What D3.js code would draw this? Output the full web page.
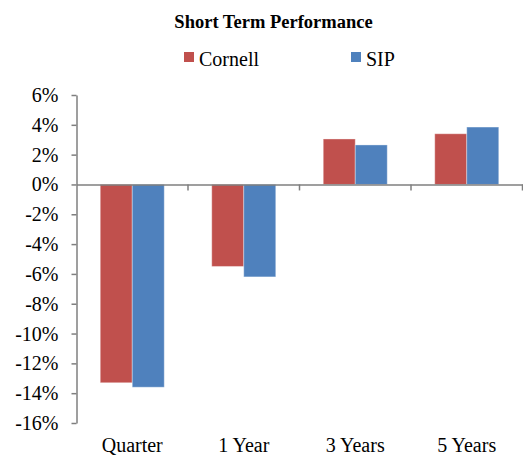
<!DOCTYPE html>
<html>
<head>
<meta charset="utf-8">
<script src="https://cdn.jsdelivr.net/npm/d3@7"></script>
</head>
<body style="margin:0">
<svg id="chart" width="523" height="457"></svg>
<script>
const categories = ["Quarter", "1 Year", "3 Years", "5 Years"];
const seriesNames = ["Cornell", "SIP"];
const cornell = [-13.3, -5.5, 3.05, 3.4];
const sip = [-13.6, -6.2, 2.65, 3.85];
const yTicks = [6, 4, 2, 0, -2, -4, -6, -8, -10, -12, -14, -16];
const colors = ["#C0504D", "#4F81BD"];
const fuente = "Liberation Serif";

let svg = d3.select("#chart");

let x = d3.scaleBand()
    .domain(categories)
    .range([76.5, 522.5]);

let y = d3.scaleLinear()
    .domain([-16, 6])
    .range([423, 95]);

let x1 = d3.scaleBand()
    .domain(seriesNames)
    .range([0, 64]);

let datos = categories.map((c, i) => ({cat: c, valores: [cornell[i], sip[i]]}));

// barras
let grupos = svg.selectAll(".grupo")
    .data(datos)
    .enter()
    .append("g")
    .attr("transform", d => `translate(${x(d.cat) + (x.bandwidth() - 64) / 2},0)`);

grupos.selectAll("rect")
    .data(d => d.valores.map((v, j) => ({serie: seriesNames[j], v: v, j: j})))
    .enter()
    .append("rect")
    .attr("x", d => x1(d.serie))
    .attr("width", x1.bandwidth())
    .attr("y", d => y(Math.max(0, d.v)))
    .attr("height", d => Math.abs(y(d.v) - y(0)))
    .attr("fill", d => colors[d.j])
    .attr("stroke", "rgba(255,255,255,0.35)")
    .attr("stroke-width", 1);

// eje y (lineas)
let ejeY = svg.append("g")
    .attr("transform", "translate(76.5,0)")
    .call(d3.axisLeft(y).tickValues(yTicks).tickSize(5).tickSizeOuter(0).tickFormat(""));
ejeY.select(".domain").attr("stroke", "#7f7f7f").attr("stroke-width", 1.5);
ejeY.selectAll(".tick line").attr("stroke", "#7f7f7f").attr("stroke-width", 1.5);
ejeY.selectAll(".tick text").remove();

// etiquetas del eje y
svg.selectAll(".etiquetaY")
    .data(yTicks)
    .enter()
    .append("text")
    .text(d => d + "%")
    .attr("x", 58.5)
    .attr("y", d => y(d))
    .attr("dy", "0.35em")
    .attr("text-anchor", "end")
    .attr("font-family", fuente)
    .attr("font-size", 20);

// eje x en cero
let ejeX = svg.append("g")
    .attr("transform", `translate(0,${y(0)})`)
    .call(d3.axisBottom(x).tickSize(0).tickFormat(""));
ejeX.select(".domain").attr("stroke", "#7f7f7f").attr("stroke-width", 1.5);
ejeX.selectAll(".tick").remove();

ejeX.selectAll(".sep")
    .data(categories)
    .enter()
    .append("line")
    .attr("x1", d => x(d) + x.bandwidth())
    .attr("x2", d => x(d) + x.bandwidth())
    .attr("y1", 0)
    .attr("y2", 6)
    .attr("stroke", "#7f7f7f")
    .attr("stroke-width", 1.5);

// etiquetas de categorias
svg.selectAll(".etiquetaCat")
    .data(categories)
    .enter()
    .append("text")
    .text(d => d)
    .attr("x", d => x(d) + x.bandwidth() / 2)
    .attr("y", 452)
    .attr("text-anchor", "middle")
    .attr("font-family", fuente)
    .attr("font-size", 20);

// titulo
svg.append("text")
    .text("Short Term Performance")
    .attr("x", 273.5)
    .attr("y", 28)
    .attr("text-anchor", "middle")
    .attr("font-family", fuente)
    .attr("font-size", 18.5)
    .attr("font-weight", "bold");

// leyenda
let leyendaX = [184, 351];
let leyenda = svg.selectAll(".leyenda")
    .data(seriesNames)
    .enter()
    .append("g")
    .attr("transform", (d, i) => `translate(${leyendaX[i]},0)`);
leyenda.append("rect")
    .attr("x", 0)
    .attr("y", 52)
    .attr("width", 10)
    .attr("height", 10)
    .attr("fill", (d, i) => colors[i]);
leyenda.append("text")
    .text(d => d)
    .attr("x", 15)
    .attr("y", 66)
    .attr("font-family", fuente)
    .attr("font-size", 20);
</script>
</body>
</html>
